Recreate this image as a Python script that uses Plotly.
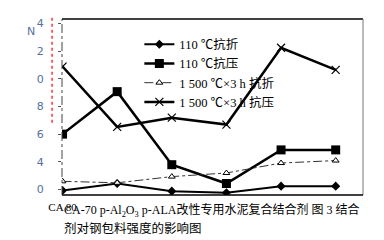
import plotly.graph_objects as go

# x positions of the six test samples (first one labelled "CA 80")
sample_index = [0, 1, 2, 3, 4, 5]
x_tick_vals = [0]
x_tick_text = ["CA 80"]

# strength values
flex_110 = [11.93, 12.43, 11.88, 11.76, 12.24, 12.24]     # 110 ℃抗折
comp_110 = [16.0, 19.07, 13.79, 12.43, 14.86, 14.86]      # 110 ℃抗压
flex_1500 = [12.59, 12.48, 12.93, 13.19, 13.91, 14.09]    # 1 500 ℃×3 h 抗折
comp_1500 = [20.88, 16.52, 17.19, 16.69, 22.24, 20.64]    # 1 500 ℃×3 h 抗压

series_names = ["110 ℃抗折", "110 ℃抗压", "1 500 ℃×3 h 抗折", "1 500 ℃×3 h 抗压"]

y_tick_vals = [24, 22, 20, 18, 16, 14, 12]
y_tick_text = ["4", "2", "0", "8", "6", "4", "0"]

caption_1 = "CA-70 p-Al<sub>2</sub>O<sub>3</sub> p-ALA改性专用水泥复合结合剂 图 3 结合"
caption_2 = "剂对钢包料强度的影响图"

FONT = "Liberation Serif, Noto Sans CJK SC, serif"

fig = go.Figure()
fig.add_trace(go.Scatter(x=sample_index, y=flex_110, name=series_names[0], mode="lines+markers",
                         line=dict(color="black", width=2),
                         marker=dict(symbol="diamond", size=7, color="black")))
fig.add_trace(go.Scatter(x=sample_index, y=comp_110, name=series_names[1], mode="lines+markers",
                         line=dict(color="black", width=2.5),
                         marker=dict(symbol="square", size=9, color="black")))
fig.add_trace(go.Scatter(x=sample_index, y=flex_1500, name=series_names[2], mode="lines+markers",
                         line=dict(color="#333333", width=1, dash="dashdot"),
                         marker=dict(symbol="triangle-up", size=6, color="white",
                                     line=dict(color="black", width=1))))
fig.add_trace(go.Scatter(x=sample_index, y=comp_1500, name=series_names[3], mode="lines+markers",
                         line=dict(color="black", width=2.5),
                         marker=dict(symbol="x-thin-open", size=8, color="black",
                                     line=dict(color="black", width=1.2))))

fig.update_layout(
    width=384, height=240,
    margin=dict(l=62, r=21, t=19, b=45, pad=0),
    paper_bgcolor="white", plot_bgcolor="white",
    font=dict(family=FONT, size=12, color="black"),
    showlegend=True,
    legend=dict(x=0.257, y=0.94, xanchor="left", yanchor="top",
                bgcolor="rgba(0,0,0,0)", borderwidth=0,
                font=dict(family=FONT, size=12.5, color="black"),
                tracegroupgap=0, itemwidth=30),
    xaxis=dict(range=[-0.01, 5.5], showgrid=False, zeroline=False, showline=False,
               tickvals=x_tick_vals, ticktext=x_tick_text, ticks="", ticklabelstandoff=4,
               tickfont=dict(family=FONT, size=11, color="black")),
    yaxis=dict(range=[11.6, 24.32], showgrid=False, zeroline=False, showline=False,
               tickvals=y_tick_vals, ticktext=y_tick_text, ticks="outside", ticklen=3,
               tickcolor="#555555", ticklabelstandoff=12,
               tickfont=dict(family="DejaVu Sans, sans-serif", size=11, color="#5570a0")),
)

# frame
fig.add_shape(type="line", xref="paper", yref="paper", x0=0, x1=1, y0=1, y1=1,
              line=dict(color="black", width=1.5))
fig.add_shape(type="line", xref="paper", yref="paper", x0=1, x1=1, y0=0, y1=1,
              line=dict(color="#777777", width=1))
fig.add_shape(type="line", xref="paper", yref="paper", x0=0, x1=1, y0=0, y1=0,
              line=dict(color="black", width=1.5))
fig.add_shape(type="line", xref="paper", yref="paper", x0=0, x1=0, y0=0, y1=1,
              line=dict(color="#444444", width=1, dash="dashdot"))
# red dotted scan mark
fig.add_shape(type="line", xref="paper", yref="paper", x0=-0.033, x1=-0.033, y0=0.41, y1=1.01,
              line=dict(color="red", width=1.2, dash="dot"))

fig.add_annotation(x=-0.123, y=0.98, xref="paper", yref="paper", text="N", showarrow=False,
                   font=dict(family="DejaVu Sans, sans-serif", size=11, color="#5570a0"))
fig.add_annotation(x=0, y=-0.09, xref="paper", yref="paper", xanchor="left", yanchor="middle",
                   text=caption_1, showarrow=False,
                   font=dict(family=FONT, size=12, color="black"))
fig.add_annotation(x=0, y=-0.19, xref="paper", yref="paper", xanchor="left", yanchor="middle",
                   text=caption_2, showarrow=False,
                   font=dict(family=FONT, size=12.5, color="black"))

fig.write_html("out.html")
